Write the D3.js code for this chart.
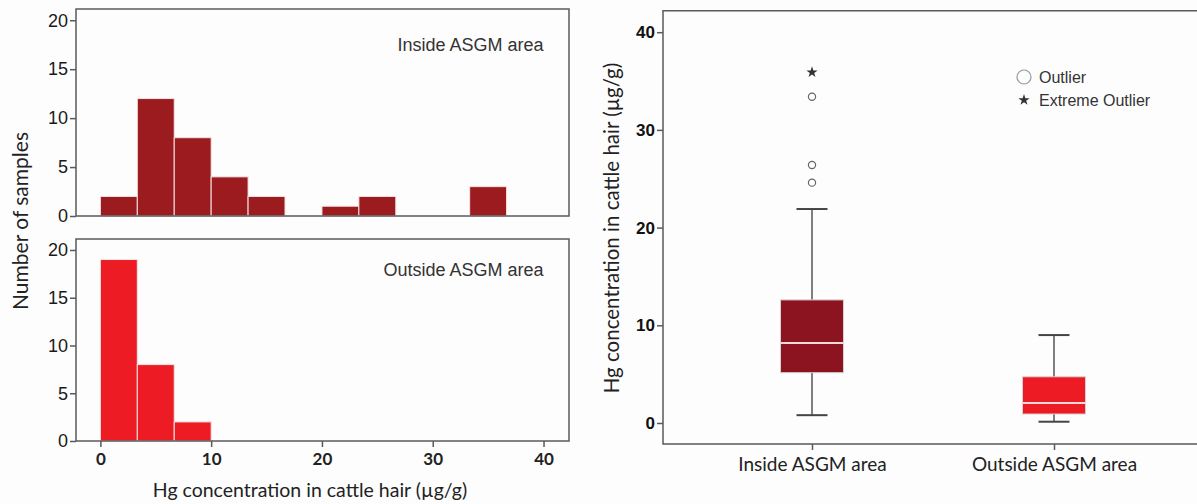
<!DOCTYPE html>
<html><head><meta charset="utf-8">
<script src="https://cdn.jsdelivr.net/npm/d3@7"></script>
<style>body{margin:0;background:#fdfdfd}svg{display:block}</style>
</head><body>
<script>
// ---------- data ----------
const binWidth = 10 / 3;
const insideCounts = [2, 12, 8, 4, 2, 0, 1, 2, 0, 0, 3];
const outsideCounts = [19, 8, 2];
const histXTicks = [0, 10, 20, 30, 40];
const histYTicks = [0, 5, 10, 15, 20];

const boxCategories = ["Inside ASGM area", "Outside ASGM area"];
const boxQ1 = [5.15, 0.92];
const boxMedian = [8.2, 2.05];
const boxQ3 = [12.6, 4.73];
const whiskerLow = [0.8, 0.13];
const whiskerHigh = [21.9, 9.0];
const outliers = [[24.6, 26.4, 33.4], []];
const extremeOutliers = [[35.9], []];
const boxYTicks = [0, 10, 20, 30, 40];
const boxColors = ["#8c1420", "#ed1c24"];

// ---------- setup ----------
const W = 1197, H = 504;
const svg = d3.select("body").append("svg").attr("width", W).attr("height", H);
const frameColor = "#5a5a5a";
const armFont = "'Liberation Sans', Arial, sans-serif";
const calFont = "Lato, 'Open Sans', sans-serif";

const x = d3.scaleLinear().domain([-2.2, 42.3]).range([76, 569]);

function histPanel(counts, yRange, color, label, labelY, showX) {
  const y = d3.scaleLinear().domain([0, 21.15]).range(yRange);
  const g = svg.append("g");
  g.selectAll("rect").data(counts.map((c, i) => ({c, i})).filter(d => d.c > 0))
    .enter().append("rect")
    .attr("x", d => x(d.i * binWidth))
    .attr("width", d => x((d.i + 1) * binWidth) - x(d.i * binWidth))
    .attr("y", d => y(d.c))
    .attr("height", d => y(0) - y(d.c))
    .attr("fill", color)
    .attr("stroke", "#f4e4e4").attr("stroke-width", 1);
  g.append("rect").attr("x", x.range()[0]).attr("y", yRange[1])
    .attr("width", x.range()[1] - x.range()[0]).attr("height", yRange[0] - yRange[1])
    .attr("fill", "none").attr("stroke", frameColor).attr("stroke-width", 1.5);
  const ya = g.append("g").attr("transform", `translate(${x.range()[0]},0)`)
    .call(d3.axisLeft(y).tickValues(histYTicks).tickSize(6).tickPadding(2));
  ya.select(".domain").remove();
  ya.selectAll("line").attr("stroke", frameColor).attr("stroke-width", 1.5);
  ya.selectAll("text").attr("font-family", armFont).attr("font-size", 18).attr("fill", "#1a1a1a");
  if (showX) {
    const xa = g.append("g").attr("transform", `translate(0,${yRange[0]})`)
      .call(d3.axisBottom(x).tickValues(histXTicks).tickSize(6).tickPadding(6));
    xa.select(".domain").remove();
    xa.selectAll("line").attr("stroke", frameColor).attr("stroke-width", 1.5);
    xa.selectAll("text").attr("font-family", calFont).attr("font-weight", "bold")
      .attr("font-size", 17).attr("fill", "#222");
  }
  g.append("text").attr("x", x(40)).attr("y", labelY).attr("text-anchor", "end")
    .attr("font-family", armFont).attr("font-size", 18).attr("fill", "#333").text(label);
}

histPanel(insideCounts, [216, 9], "#9c1b1f", "Inside ASGM area", 51, false);
histPanel(outsideCounts, [441, 239], "#ed1c24", "Outside ASGM area", 276, true);

svg.append("text").attr("transform", "translate(28,221) rotate(-90)")
  .attr("text-anchor", "middle").attr("font-family", calFont).attr("font-size", 21)
  .attr("fill", "#222").text("Number of samples");
svg.append("text").attr("x", 310).attr("y", 497).attr("text-anchor", "middle")
  .attr("font-family", calFont).attr("font-size", 19.5).attr("fill", "#222")
  .text("Hg concentration in cattle hair (\u00b5g/g)");

// ---------- box plot ----------
const bx0 = 663, bx1 = 1197, by0 = 444, by1 = 10.7;
const by = d3.scaleLinear().domain([-2.15, 42.2]).range([by0, by1]);
const bx = d3.scalePoint().domain(boxCategories).range([812, 1054]);
const boxW = 63, capW = 31;
const bg = svg.append("g");

bg.append("path").attr("d", `M${bx1},${by1}H${bx0}V${by0}H${bx1}`)
  .attr("fill", "none").attr("stroke", frameColor).attr("stroke-width", 1.5);

const ya2 = bg.append("g").attr("transform", `translate(${bx0},0)`)
  .call(d3.axisLeft(by).tickValues(boxYTicks).tickSize(6).tickPadding(2));
ya2.select(".domain").remove();
ya2.selectAll("line").attr("stroke", frameColor).attr("stroke-width", 1.5);
ya2.selectAll("text").attr("font-family", armFont).attr("font-weight", "bold")
  .attr("font-size", 17).attr("fill", "#111");

const xa2 = bg.append("g").attr("transform", `translate(0,${by0})`)
  .call(d3.axisBottom(bx).tickSize(6).tickPadding(8));
xa2.select(".domain").remove();
xa2.selectAll("line").attr("stroke", frameColor).attr("stroke-width", 1.5);
xa2.selectAll("text").attr("font-family", calFont).attr("font-size", 19).attr("fill", "#222");

svg.append("text").attr("transform", "translate(619,228) rotate(-90)")
  .attr("text-anchor", "middle").attr("font-family", calFont).attr("font-size", 20.5)
  .attr("fill", "#222").text("Hg concentration in cattle hair (\u00b5g/g)");

boxCategories.forEach((c, i) => {
  const cx = bx(c);
  bg.append("line").attr("x1", cx).attr("x2", cx).attr("y1", by(whiskerLow[i])).attr("y2", by(whiskerHigh[i]))
    .attr("stroke", "#555").attr("stroke-width", 1.5);
  [whiskerLow[i], whiskerHigh[i]].forEach(v => {
    bg.append("line").attr("x1", cx - capW / 2).attr("x2", cx + capW / 2)
      .attr("y1", by(v)).attr("y2", by(v)).attr("stroke", "#444").attr("stroke-width", 2);
  });
  bg.append("rect").attr("x", cx - boxW / 2).attr("width", boxW)
    .attr("y", by(boxQ3[i])).attr("height", by(boxQ1[i]) - by(boxQ3[i]))
    .attr("fill", boxColors[i]).attr("stroke", "#d8d0d0").attr("stroke-width", 1);
  bg.append("line").attr("x1", cx - boxW / 2).attr("x2", cx + boxW / 2)
    .attr("y1", by(boxMedian[i])).attr("y2", by(boxMedian[i]))
    .attr("stroke", "#f2dada").attr("stroke-width", 2);
  bg.selectAll(null).data(outliers[i]).enter().append("circle")
    .attr("cx", cx).attr("cy", d => by(d)).attr("r", 3.6)
    .attr("fill", "none").attr("stroke", "#666").attr("stroke-width", 1.2);
  bg.selectAll(null).data(extremeOutliers[i]).enter().append("path")
    .attr("transform", d => `translate(${cx},${by(d)})`)
    .attr("d", d3.symbol(d3.symbolStar, 40)()).attr("fill", "#333");
});

// legend
const lg = svg.append("g").attr("transform", "translate(1024,77)");
lg.append("circle").attr("r", 7).attr("fill", "none").attr("stroke", "#999").attr("stroke-width", 1.2);
lg.append("text").attr("x", 15).attr("y", 5.5).attr("font-family", armFont).attr("font-size", 16)
  .attr("fill", "#333").text("Outlier");
lg.append("path").attr("transform", "translate(0,23)").attr("d", d3.symbol(d3.symbolStar, 40)()).attr("fill", "#333");
lg.append("text").attr("x", 15).attr("y", 28.5).attr("font-family", armFont).attr("font-size", 16)
  .attr("fill", "#333").text("Extreme Outlier");
</script>
</body></html>
